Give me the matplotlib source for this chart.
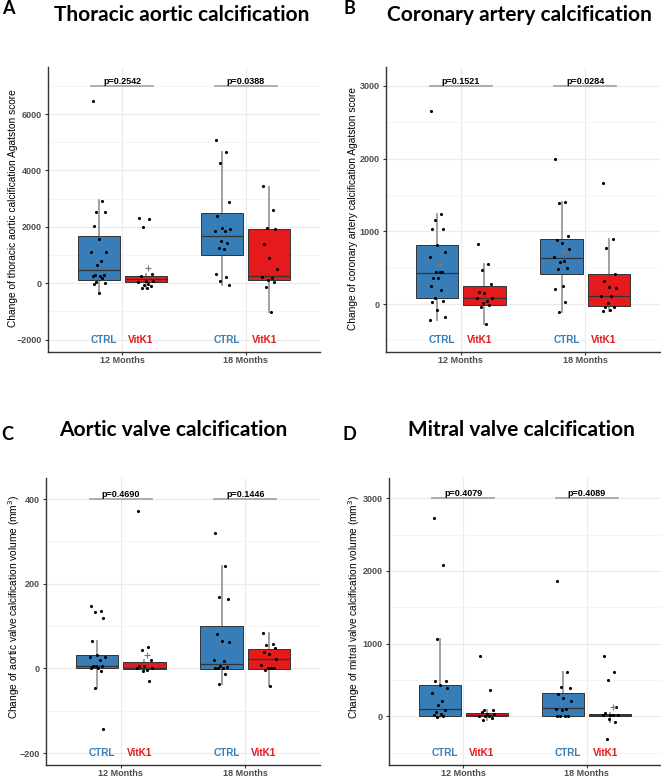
import numpy as np
import matplotlib
matplotlib.use("Agg")
import matplotlib.pyplot as plt

plt.rcParams['font.family'] = ['Liberation Sans', 'DejaVu Sans']

W, H = 661, 779

# --- DATA ---
months = ["12 Months", "18 Months"]
groups = ["CTRL", "VitK1"]

# A: thoracic aortic calcification (Agatston score)
a_ctrl_12 = [6460, 2930, 2540, 2530, 2040, 1560, 1100, 1090, 800, 650, 290, 280, 260, 250, 180, 60, 20, -35, -330]
a_vitk_12 = [2330, 2270, 1980, 320, 250, 80, 80, 35, -35, -60, -105, -165, -165]
a_ctrl_18 = [5090, 4640, 4260, 2890, 2390, 1960, 1910, 1860, 1850, 1510, 1440, 1260, 1230, 330, 235, 80, -60]
a_vitk_18 = [3450, 2600, 1950, 1920, 1380, 890, 500, 235, 200, 120, 60, -120, -1005]
# whislo, q1, median, q3, whishi for CTRL12, VitK1-12, CTRL18, VitK1-18
a_box = [[-320, 117, 460, 1680, 2950], [-165, 60, 140, 270, 320],
         [-60, 1003, 1665, 2502, 4642], [-1006, 106, 259, 1924, 3424]]
a_mean = [None, 530, None, None]
a_p = ["p=0.2542", "p=0.0388"]

# B: coronary artery calcification (Agatston score)
b_ctrl_12 = [2660, 1235, 1155, 1035, 1025, 810, 720, 640, 445, 445, 440, 360, 355, 250, 190, 85, 45, 25, -85, -180, -215]
b_vitk_12 = [820, 545, 470, 280, 170, 155, 85, 80, 45, 20, -15, -35, -280]
b_ctrl_18 = [1995, 1410, 1390, 935, 885, 845, 755, 650, 595, 575, 490, 475, 250, 200, 30, -110]
b_vitk_18 = [1670, 895, 765, 415, 315, 230, 215, 110, 110, 10, -35, -45, -85, -90]
b_box = [[-215, 83, 431, 807, 1234], [-280, -14, 78, 252, 546],
         [-110, 408, 628, 899, 1408], [-90, -32, 110, 408, 890]]
b_mean = [546, None, 711, None]
b_p = ["p=0.1521", "p=0.0284"]

# C: aortic valve calcification volume (mm3)
c_ctrl_12 = [148, 135, 133, 119, 65, 31, 28, 27, 20, 5, 5, 5, 2, 0, -6, -45, -142]
c_vitk_12 = [371, 50, 44, 19, 5, 5, 1, 1, -3, -5, -30]
c_ctrl_18 = [320, 243, 169, 164, 81, 64, 62, 20, 17, 5, 4, 1, 1, 0, -13, -36]
c_vitk_18 = [84, 58, 56, 48, 38, 34, 22, 8, 1, 1, 0, -3, -41]
c_box = [[-45, 0, 5, 31, 66], [-5, -1, 1, 15, 19],
         [-36, -1, 11, 101, 243], [-41, -1, 22, 46, 84]]
c_mean = [None, 32, None, None]
c_p = ["p=0.4690", "p=0.1446"]

# D: mitral valve calcification volume (mm3)
d_ctrl_12 = [2725, 2075, 1065, 490, 490, 430, 385, 320, 215, 160, 80, 55, 25, 10, 0, -15]
d_vitk_12 = [825, 360, 90, 80, 55, 35, 25, 0, 0, 0, -25, -55]
d_ctrl_18 = [1865, 610, 400, 390, 310, 245, 205, 105, 105, 80, 0, 0, 0, 0]
d_vitk_18 = [825, 615, 495, 125, 45, 15, 12, 10, 10, -45, -80, -320]
d_box = [[-15, 0, 105, 426, 1063], [-55, 0, 23, 46, 90],
         [0, 0, 106, 321, 610], [-80, 0, 19, 32, 46]]
d_mean = [None, None, None, 120]
d_p = ["p=0.4079", "p=0.4089"]

BLUE = "#377EB8"
RED = "#E41A1C"
JIT = [-0.05, 0.03, -0.02, 0.05, -0.04, 0.0, 0.06, -0.06, 0.02, -0.01, 0.04, -0.03, 0.01]

fig = plt.figure(figsize=(W / 100, H / 100), dpi=100)


def ftext(x, y, s, **kw):
    fig.text(x / W, 1 - y / H, s, **kw)


def panel(rect, points, boxes, means, pvals, ylim, major, minor, p_y, lab_y):
    l, r, t, b = rect
    ax = fig.add_axes([l / W, 1 - b / H, (r - l) / W, (b - t) / H])
    pos = [1 - 0.19, 1 + 0.19, 2 - 0.19, 2 + 0.19]
    colors = [BLUE, RED, BLUE, RED]
    stats = [dict(whislo=s[0], q1=s[1], med=s[2], q3=s[3], whishi=s[4], fliers=[]) for s in boxes]
    bp = ax.bxp(stats, positions=pos, widths=0.34, patch_artist=True, showcaps=False,
                showfliers=False,
                boxprops=dict(edgecolor="#333333", linewidth=0.7),
                whiskerprops=dict(color="#9a9a9a", linewidth=1.3),
                medianprops=dict(color="#333333", linewidth=0.9))
    for patch, c in zip(bp["boxes"], colors):
        patch.set_facecolor(c)
        patch.set_zorder(2)
    for w in bp["whiskers"]:
        w.set_zorder(1.5)
    for m in bp["medians"]:
        m.set_zorder(3)
    for x0, vals in zip(pos, points):
        xs = [x0 + JIT[i % len(JIT)] for i in range(len(vals))]
        ax.scatter(xs, vals, s=5, color="black", zorder=4, linewidths=0)
    for x0, m in zip(pos, means):
        if m is not None:
            ax.plot([x0 + 0.02], [m], marker="+", color="#777777", markersize=4,
                    markeredgewidth=0.8, zorder=4)
    for i, ptxt in enumerate(pvals):
        xc = i + 1
        ax.plot([xc - 0.25, xc + 0.25], [p_y, p_y], color="#a0a0a0", lw=1.2, zorder=3)
        ax.text(xc, p_y, ptxt, ha="center", va="bottom", fontsize=6.5,
                fontweight="bold", color="black")
        ax.text(xc - 0.15, lab_y, groups[0], ha="center", va="center", fontsize=7.2,
                fontweight="bold", color=BLUE)
        ax.text(xc + 0.15, lab_y, groups[1], ha="center", va="center", fontsize=7.2,
                fontweight="bold", color=RED)
    ax.set_xlim(0.4, 2.6)
    ax.set_ylim(*ylim)
    ax.set_xticks([1, 2])
    ax.set_xticklabels(months)
    ax.set_yticks(major)
    ax.set_yticks(minor, minor=True)
    ax.tick_params(axis="both", which="major", length=2.5, width=0.8, color="#333333",
                   labelsize=6.5, labelcolor="#4d4d4d", pad=2)
    ax.tick_params(axis="x", which="major", length=2, pad=1.2)
    ax.tick_params(axis="y", which="minor", length=0)
    for lab in ax.get_xticklabels() + ax.get_yticklabels():
        lab.set_fontweight("bold")
    ax.set_axisbelow(True)
    ax.grid(True, which="major", color="#ebebeb", lw=0.8)
    ax.grid(True, which="minor", axis="y", color="#f2f2f2", lw=0.5)
    for s in ["top", "right"]:
        ax.spines[s].set_visible(False)
    for s in ["left", "bottom"]:
        ax.spines[s].set_color("#333333")
        ax.spines[s].set_linewidth(1.0)
    return ax


panel((48, 320, 67, 352), [a_ctrl_12, a_vitk_12, a_ctrl_18, a_vitk_18], a_box, a_mean, a_p,
      (-2440, 7670), [-2000, 0, 2000, 4000, 6000], [-1000, 1000, 3000, 5000, 7000], 7000, -2000)
panel((386, 660, 67, 352), [b_ctrl_12, b_vitk_12, b_ctrl_18, b_vitk_18], b_box, b_mean, b_p,
      (-660, 3260), [0, 1000, 2000, 3000], [-500, 500, 1500, 2500], 3000, -500)
panel((46, 320, 478, 765), [c_ctrl_12, c_vitk_12, c_ctrl_18, c_vitk_18], c_box, c_mean, c_p,
      (-228, 450), [-200, 0, 200, 400], [-100, 100, 300], 400, -200)
panel((389, 661, 478, 765), [d_ctrl_12, d_vitk_12, d_ctrl_18, d_vitk_18], d_box, d_mean, d_p,
      (-672, 3279), [0, 1000, 2000, 3000], [-500, 500, 1500, 2500], 3000, -500)

# titles and panel letters
tfont = dict(family=["Lato", "DejaVu Sans"], fontweight="bold", color="black", va="center")
ftext(8, 9, "A", ha="center", fontsize=13, **tfont)
ftext(182, 15, "Thoracic aortic calcification", ha="center", fontsize=15, **tfont)
ftext(349, 9, "B", ha="center", fontsize=13, **tfont)
ftext(519, 15, "Coronary artery calcification", ha="center", fontsize=15, **tfont)
ftext(7, 434, "C", ha="center", fontsize=13, **tfont)
ftext(173, 430, "Aortic valve calcification", ha="center", fontsize=15, **tfont)
ftext(349, 434, "D", ha="center", fontsize=13, **tfont)
ftext(521, 430, "Mitral valve calcification", ha="center", fontsize=15, **tfont)

# y axis labels
yl = dict(rotation=90, ha="center", va="center", fontsize=7.3, color="black")
ftext(13, 208, "Change of thoracic aortic calcification Agatston score", **yl)
ftext(353, 208, "Change of coronary artery calcification Agatston score", **yl)
ftext(14, 607, "Change of aortic valve calcification volume (mm$^3$)", **yl)
ftext(354, 607, "Change of mitral valve calcification volume (mm$^3$)", **yl)

fig.savefig("out.png", dpi=100)
